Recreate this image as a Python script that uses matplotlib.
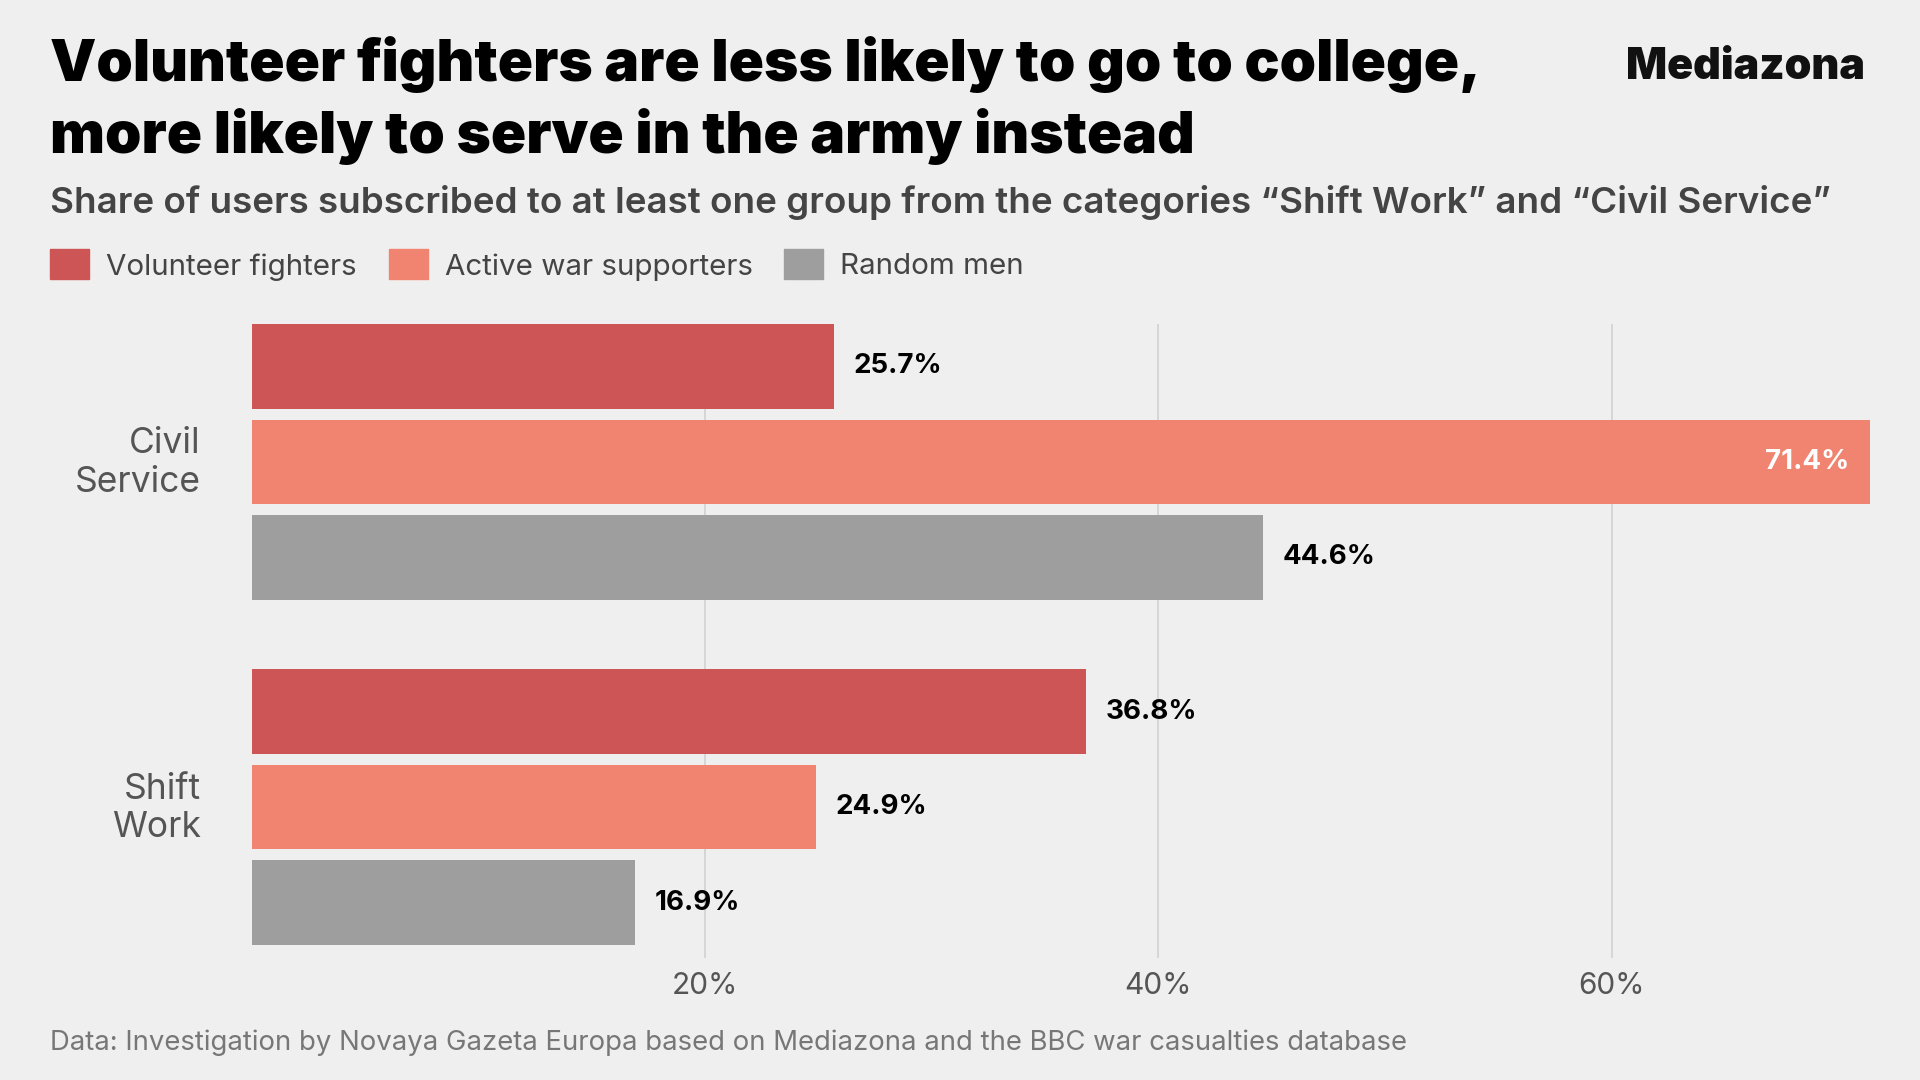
import matplotlib
matplotlib.use("Agg")
import matplotlib.pyplot as plt
from matplotlib.patches import Rectangle
from matplotlib.transforms import blended_transform_factory

# data
categories = ["Civil\nService", "Shift\nWork"]
series = ["Volunteer fighters", "Active war supporters", "Random men"]
volunteer = [25.7, 36.8]
supporters = [71.4, 24.9]
random_men = [44.6, 16.9]
xticks = [20, 40, 60]
xtick_labels = ["20%", "40%", "60%"]

colors = ["#cd5555", "#f08470", "#9e9e9e"]
bg = "#efefef"

W, H = 1920, 1080
fig = plt.figure(figsize=(W / 100, H / 100), dpi=100, facecolor=bg)


def fx(x):
    return x / W


def fy(y):
    return 1 - y / H


# axes placed in pixel units
left, right, top, bottom = 252, 1870, 324, 958
ax = fig.add_axes([fx(left), fy(bottom), fx(right - left), (bottom - top) / H])
ax.set_facecolor(bg)

group_gap = 3.616
bar_h = 0.885
values = [volunteer, supporters, random_men]
for i, (vals, col) in enumerate(zip(values, colors)):
    ys = [g * group_gap + (i - 1) for g in range(len(categories))]
    ax.barh(ys, vals, height=bar_h, color=col, zorder=3)
    for y, v in zip(ys, vals):
        if v > 65:
            ax.annotate(f"{v}%", xy=(v, y), xytext=(-15, 0), textcoords="offset points",
                        ha="right", va="center", fontsize=20, fontweight="bold",
                        color="white", family="Inter", zorder=4)
        else:
            ax.annotate(f"{v}%", xy=(v, y), xytext=(14, 0), textcoords="offset points",
                        ha="left", va="center", fontsize=20, fontweight="bold",
                        color="black", family="Inter", zorder=4)

ax.set_xlim(0, 71.4)
last = (len(categories) - 1) * group_gap + 1 + bar_h / 2
ax.set_ylim(last + 13 / 95.5, -1 - bar_h / 2)

ax.set_xticks(xticks)
ax.set_xticklabels(xtick_labels, family="Inter", fontsize=21.5, color="#555555")
ax.tick_params(axis="x", length=0, pad=10)
ax.set_yticks([])
ax.grid(axis="x", color="#d2d2d2", linewidth=1.2, zorder=0)
for s in ax.spines.values():
    s.set_visible(False)

trans = blended_transform_factory(ax.transAxes, ax.transData)
for g, cat in enumerate(categories):
    ax.annotate(cat, xy=(0, g * group_gap), xycoords=trans, xytext=(-37, -1),
                textcoords="offset points", ha="right", va="center",
                fontsize=25.5, color="#555555", family="Inter", linespacing=1.22)

# titles
fig.text(fx(50), fy(81), "Volunteer fighters are less likely to go to college,",
         fontsize=42, fontweight="black", family="Inter", color="black", va="baseline")
fig.text(fx(50), fy(153), "more likely to serve in the army instead",
         fontsize=42, fontweight="black", family="Inter", color="black", va="baseline")
fig.text(fx(1865), fy(79), "Mediazona", fontsize=31, fontweight="black",
         family="Inter", color="#111111", ha="right", va="baseline")
fig.text(fx(50), fy(213),
         "Share of users subscribed to at least one group from the categories "
         "\u201cShift Work\u201d and \u201cCivil Service\u201d",
         fontsize=26.5, fontweight="semibold", family="Inter", color="#444444",
         va="baseline")

# legend
lx = [50, 389, 784]
for x, name, col in zip(lx, series, colors):
    fig.patches.append(Rectangle((fx(x), fy(279)), 39 / W, 30 / H,
                                 transform=fig.transFigure, color=col))
    fig.text(fx(x + 56), fy(267), name, fontsize=21.3, family="Inter",
             color="#444444", va="center")

fig.text(fx(50), fy(1050),
         "Data: Investigation by Novaya Gazeta Europa based on Mediazona and the BBC war casualties database",
         fontsize=19.8, family="Inter", color="#777777", va="baseline")

fig.savefig("out.png", dpi=100, facecolor=bg)
